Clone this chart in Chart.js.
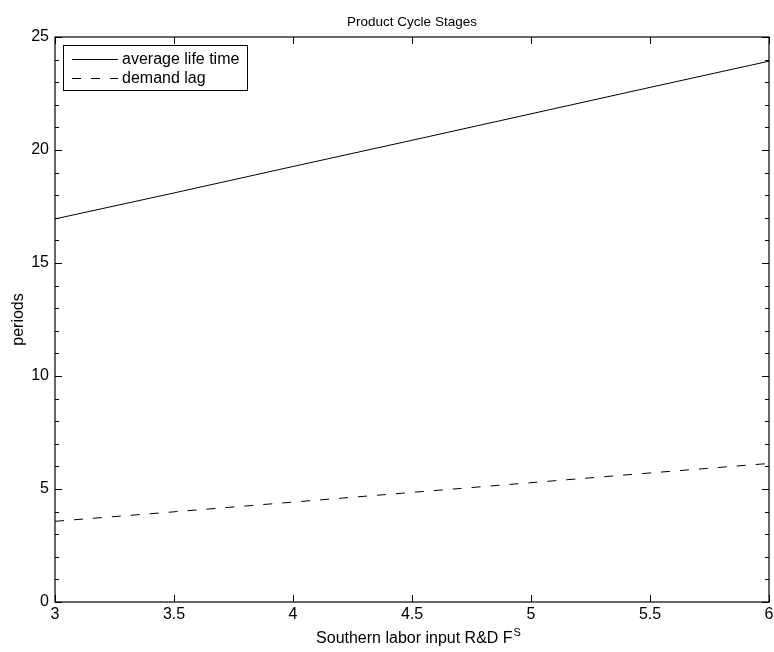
<!DOCTYPE html>
<html><head><meta charset="utf-8">
<script src="https://cdn.jsdelivr.net/npm/chart.js@4.4.0/dist/chart.umd.min.js"></script>
<style>html,body{margin:0;padding:0;background:#fff}#wrap{width:774px;height:652px}</style>
</head><body><div id="wrap"><canvas id="c" width="774" height="652"></canvas></div>
<script>
const xValues = [3, 3.5, 4, 4.5, 5, 5.5, 6];
const lifeTime = [16.95, 18.1, 19.27, 20.43, 21.6, 22.77, 23.93];
const demandLag = [3.57, 3.99, 4.42, 4.85, 5.28, 5.71, 6.13];
const xTicks = [3, 3.5, 4, 4.5, 5, 5.5, 6];
const yTicks = [0, 5, 10, 15, 20, 25];
const yMinorTicks = [1,2,3,4,6,7,8,9,11,12,13,14,16,17,18,19,21,22,23,24];
const seriesNames = ['average life time', 'demand lag'];
const chartTitle = 'Product Cycle Stages';
const xTitle = 'Southern labor input R&D F';
const xTitleSup = 'S';
const yTitle = 'periods';

const FONT = '"Liberation Sans", Arial, Helvetica, sans-serif';
const DASH = [9, 10];

const decor = {
  id: 'decor',
  afterDraw(chart) {
    const ctx = chart.ctx;
    const a = chart.chartArea;
    const xs = chart.scales.x, ys = chart.scales.y;
    ctx.save();
    ctx.strokeStyle = '#000';
    ctx.lineWidth = 1.2;
    ctx.strokeRect(a.left, a.top, a.right - a.left, a.bottom - a.top);
    ctx.lineWidth = 1;
    ctx.beginPath();
    xTicks.forEach(v => {
      const px = Math.round(xs.getPixelForValue(v)) + 0.5;
      ctx.moveTo(px, a.bottom); ctx.lineTo(px, a.bottom - 7);
      ctx.moveTo(px, a.top); ctx.lineTo(px, a.top + 7);
    });
    yTicks.forEach(v => {
      const py = Math.round(ys.getPixelForValue(v)) + 0.5;
      ctx.moveTo(a.left, py); ctx.lineTo(a.left + 7, py);
      ctx.moveTo(a.right, py); ctx.lineTo(a.right - 7, py);
    });
    yMinorTicks.forEach(v => {
      const py = Math.round(ys.getPixelForValue(v)) + 0.5;
      ctx.moveTo(a.left, py); ctx.lineTo(a.left + 4, py);
      ctx.moveTo(a.right, py); ctx.lineTo(a.right - 4, py);
    });
    ctx.stroke();

    // legend
    const lx = 63.5, ly = 45.5, lw = 184, lh = 45;
    ctx.fillStyle = '#fff';
    ctx.fillRect(lx, ly, lw, lh);
    ctx.strokeStyle = '#000';
    ctx.lineWidth = 1;
    ctx.strokeRect(lx, ly, lw, lh);
    ctx.font = '16px ' + FONT;
    ctx.fillStyle = '#000';
    ctx.textBaseline = 'middle';
    ctx.textAlign = 'left';
    chart.data.datasets.forEach((ds, i) => {
      const y = 59.5 + i * 19;
      ctx.beginPath();
      ctx.setLineDash(ds.borderDash || []);
      ctx.moveTo(72, y); ctx.lineTo(118, y);
      ctx.stroke();
      ctx.setLineDash([]);
      ctx.fillText(ds.label, 122, y);
    });

    // titles
    const cx = (a.left + a.right) / 2;
    ctx.textAlign = 'center';
    ctx.textBaseline = 'alphabetic';
    ctx.font = '13.5px ' + FONT;
    ctx.fillText(chartTitle, cx, 26);

    ctx.font = '16px ' + FONT;
    const w1 = ctx.measureText(xTitle).width;
    ctx.font = '11px ' + FONT;
    const w2 = ctx.measureText(xTitleSup).width;
    const start = cx + 6 - (w1 + w2) / 2;
    ctx.textAlign = 'left';
    ctx.font = '16px ' + FONT;
    ctx.fillText(xTitle, start, 643);
    ctx.font = '11px ' + FONT;
    ctx.fillText(xTitleSup, start + w1 + 1, 636);

    ctx.save();
    ctx.translate(23, (a.top + a.bottom) / 2);
    ctx.rotate(-Math.PI / 2);
    ctx.textAlign = 'center';
    ctx.font = '16px ' + FONT;
    ctx.fillText(yTitle, 0, 0);
    ctx.restore();
    ctx.restore();
  }
};

new Chart(document.getElementById('c'), {
  type: 'line',
  data: {
    datasets: [
      { label: seriesNames[0], data: xValues.map((x, i) => ({ x, y: lifeTime[i] })),
        borderColor: '#000', borderWidth: 1, pointRadius: 0, tension: 0, fill: false },
      { label: seriesNames[1], data: xValues.map((x, i) => ({ x, y: demandLag[i] })),
        borderColor: '#000', borderWidth: 1, borderDash: DASH, pointRadius: 0, tension: 0, fill: false }
    ]
  },
  options: {
    responsive: false,
    animation: false,
    devicePixelRatio: 1,
    layout: { padding: { top: 37, right: 5, left: 0, bottom: 0 } },
    plugins: { legend: { display: false }, title: { display: false }, tooltip: { enabled: false } },
    scales: {
      x: {
        type: 'linear', min: 3, max: 6,
        afterBuildTicks: s => { s.ticks = xTicks.map(v => ({ value: v })); },
        afterFit: s => { s.height = 50; s.paddingLeft = 0; s.paddingRight = 0; },
        grid: { display: false, drawTicks: false },
        border: { display: false },
        ticks: { color: '#000', font: { size: 16, family: FONT }, padding: 3, maxRotation: 0,
                 callback: v => String(v) }
      },
      y: {
        type: 'linear', min: 0, max: 25,
        afterBuildTicks: s => { s.ticks = yTicks.map(v => ({ value: v })); },
        afterFit: s => { s.width = 55; s.paddingTop = 0; s.paddingBottom = 0; },
        grid: { display: false, drawTicks: false },
        border: { display: false },
        ticks: { color: '#000', font: { size: 16, family: FONT }, padding: 6,
                 callback: v => String(v) }
      }
    }
  },
  plugins: [decor]
});
</script>
</body></html>
